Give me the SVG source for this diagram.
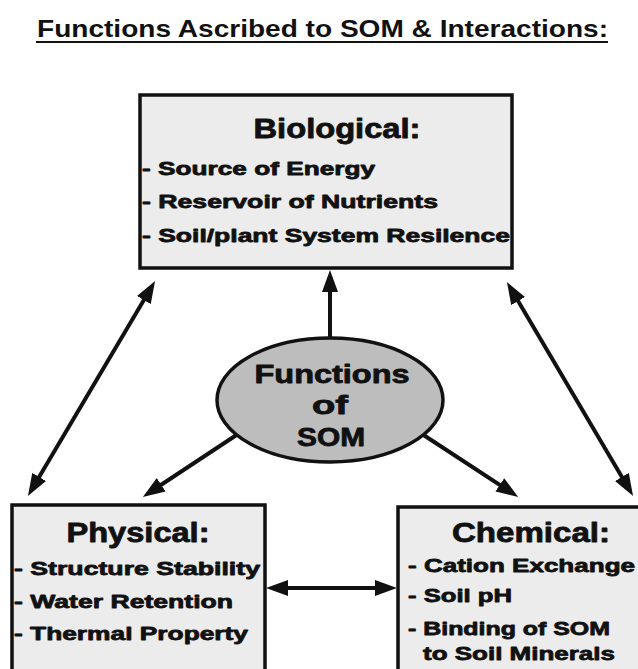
<svg xmlns="http://www.w3.org/2000/svg" width="638" height="669" viewBox="0 0 638 669">
<defs>
<style>
text{font-family:"Liberation Sans",Arial,sans-serif;font-weight:bold;fill:#111;}
.heavy{stroke:#111;stroke-width:0.8;stroke-linejoin:round;}
.box{fill:#ececec;stroke:#111;stroke-width:3.5;}
.hd{font-size:27px;text-anchor:middle;}
.it{font-size:19px;}
.conn line{stroke:#111;stroke-width:4;}
</style>
<marker id="ah" viewBox="0 0 22 16" refX="14" refY="8" markerWidth="22" markerHeight="16" markerUnits="userSpaceOnUse" orient="auto-start-reverse">
<path d="M0,0 L22,8 L0,16 z" fill="#111"/>
</marker>
</defs>
<rect width="638" height="669" fill="#fff"/>
<g id="title">
<text x="37" y="37" font-size="24" textLength="571" lengthAdjust="spacingAndGlyphs">Functions Ascribed to SOM &amp; Interactions:</text>
<line x1="36" y1="42" x2="608" y2="42" stroke="#111" stroke-width="2.2"/>
</g>
<g class="conn" id="connectors">
<line x1="330" y1="338" x2="330" y2="278" marker-end="url(#ah)"/>
<line x1="151" y1="288" x2="32" y2="489" marker-start="url(#ah)" marker-end="url(#ah)"/>
<line x1="511" y1="289" x2="629" y2="489" marker-start="url(#ah)" marker-end="url(#ah)"/>
<line x1="238" y1="434" x2="149.5" y2="492.5" marker-end="url(#ah)"/>
<line x1="422" y1="434" x2="511.5" y2="492.5" marker-end="url(#ah)"/>
<line x1="274" y1="588" x2="389" y2="588" marker-start="url(#ah)" marker-end="url(#ah)"/>
</g>
<g id="biological">
<rect class="box" x="140" y="95" width="372" height="173"/>
<text class="hd heavy" x="337" y="138" textLength="167" lengthAdjust="spacingAndGlyphs">Biological:</text>
<text class="it heavy" x="142" y="175" textLength="233" lengthAdjust="spacingAndGlyphs">- Source of Energy</text>
<text class="it heavy" x="142" y="208" textLength="296" lengthAdjust="spacingAndGlyphs">- Reservoir of Nutrients</text>
<text class="it heavy" x="142" y="242" textLength="368" lengthAdjust="spacingAndGlyphs">- Soil/plant System Resilence</text>
</g>
<g id="functions">
<ellipse cx="330" cy="400" rx="113" ry="62" fill="#bdbdbd" stroke="#111" stroke-width="3.5"/>
<text class="heavy" x="332" y="383" font-size="25" text-anchor="middle" textLength="155" lengthAdjust="spacingAndGlyphs">Functions</text>
<text class="heavy" x="330" y="414" font-size="25" text-anchor="middle" textLength="36" lengthAdjust="spacingAndGlyphs">of</text>
<text class="heavy" x="331" y="446" font-size="25" text-anchor="middle" textLength="68" lengthAdjust="spacingAndGlyphs">SOM</text>
</g>
<g id="physical">
<rect class="box" x="12" y="505" width="253" height="200"/>
<text class="hd heavy" x="138" y="542" textLength="143" lengthAdjust="spacingAndGlyphs">Physical:</text>
<text class="it heavy" x="14" y="575" textLength="246" lengthAdjust="spacingAndGlyphs">- Structure Stability</text>
<text class="it heavy" x="14" y="608" textLength="219" lengthAdjust="spacingAndGlyphs">- Water Retention</text>
<text class="it heavy" x="14" y="640" textLength="234" lengthAdjust="spacingAndGlyphs">- Thermal Property</text>
</g>
<g id="chemical">
<rect class="box" x="398" y="507" width="260" height="200"/>
<text class="hd heavy" x="531" y="542" textLength="158" lengthAdjust="spacingAndGlyphs">Chemical:</text>
<text class="it heavy" x="408" y="572" textLength="227" lengthAdjust="spacingAndGlyphs">- Cation Exchange</text>
<text class="it heavy" x="408" y="602" textLength="104" lengthAdjust="spacingAndGlyphs">- Soil pH</text>
<text class="it heavy" x="408" y="635" textLength="202" lengthAdjust="spacingAndGlyphs">- Binding of SOM</text>
<text class="it heavy" x="423" y="660" textLength="192" lengthAdjust="spacingAndGlyphs">to Soil Minerals</text>
</g>
</svg>
